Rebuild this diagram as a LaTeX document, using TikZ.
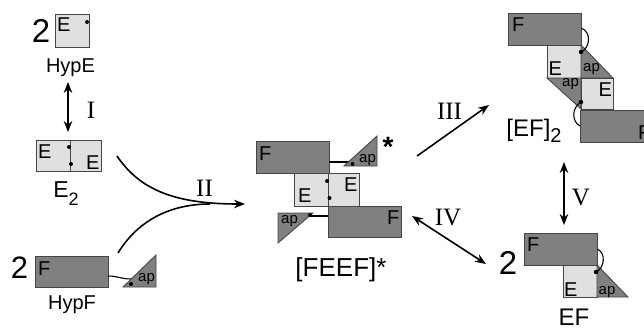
\documentclass[tikz,border=0pt]{standalone}
\usepackage{fontspec}
\setmainfont{Liberation Sans}
\newfontfamily\romfont{Liberation Serif}
\usetikzlibrary{arrows.meta}
\definecolor{fgray}{RGB}{128,128,128}
\definecolor{egray}{RGB}{224,224,224}
\definecolor{edge}{RGB}{70,70,70}
\newcommand\setfs[1]{\fontsize{#1}{#1}\selectfont}

\begin{document}
\begin{tikzpicture}[x=1pt,y=-1pt,
  fbox/.style={draw=edge,fill=fgray,line width=0.9pt},
  ebox/.style={draw=edge,fill=egray,line width=0.9pt},
  lnk/.style={line width=1.1pt},
  rxn/.style={line width=1.6pt,-{Stealth[length=11pt,width=8.5pt]}},
  rxnb/.style={line width=1.6pt,{Stealth[length=11pt,width=8.5pt]}-{Stealth[length=11pt,width=8.5pt]}},
  lbl/.style={inner sep=0pt,anchor=base west,font=\setfs{20}},
  ap/.style={inner sep=0pt,anchor=base west,font=\setfs{15}},
  splabel/.style={inner sep=0pt,anchor=base,font=\setfs{24}},
  num/.style={inner sep=0pt,anchor=base,font=\romfont\setfs{25}},
  two/.style={inner sep=0pt,anchor=base,font=\setfs{33}}]
\useasboundingbox (0,0) rectangle (644,329);
\clip (0,0) rectangle (644,329);

\draw[ebox] (55,14) rectangle (89,47);
\node[lbl] (hypeE) at (57,31) {E};
\fill (87,22) circle (2);
\node[two] (twoE) at (41,42) {2};
\node[splabel,font=\setfs{20}] (hype) at (70.5,72) {HypE};

\coordinate (Ia) at (68,82);
\coordinate (Ib) at (68,132);
\draw[rxnb] (Ia) -- (Ib);
\node[num] (I) at (91,118) {I};

\draw[ebox] (36,140) rectangle (70,171);
\draw[ebox] (70,140) rectangle (101,171);
\node[lbl] (e2a) at (38,158) {E};
\node[lbl] (e2b) at (86,169.5) {E};
\fill (69,147) circle (2);
\fill (71,164) circle (2);
\node[splabel,font=\setfs{23}] (e2) at (66,197) {E\raisebox{-8pt}{\setfs{18}2}};

\draw[fbox] (35,256) rectangle (108,287);
\node[lbl] (hypfF) at (38,275) {F};
\node[two,font=\setfs{31}] (twoF) at (19.5,278) {2};
\node[splabel,font=\setfs{20}] (hypf) at (72,309) {HypF};
\draw[lnk] (108,276) .. controls (118,276) and (121,279) .. (131,279);
\draw[fbox] (123,287) -- (156,255) -- (156,287) -- cycle;
\fill (131,284) circle (2);
\node[ap] (hypfap) at (138,281.5) {ap};

\coordinate (IIa) at (117,156);
\coordinate (IIb) at (118,253);
\coordinate (IIm) at (210,204);
\coordinate (IIc) at (245,204);
\draw[rxn] (IIa) .. controls (140,190) and (175,204) .. (IIc);
\draw[line width=1.6pt] (IIb) .. controls (140,217) and (175,204) .. (IIm);
\node[num] (II) at (204.5,196.5) {II};

\draw[fbox] (256,141) rectangle (329,173);
\draw[ebox] (294,173) rectangle (328,206);
\draw[ebox] (328,173) rectangle (359,206);
\draw[fbox] (328,206) rectangle (401,237);
\node[lbl] (feefF1) at (259,160) {F};
\node[lbl] (feefE1) at (298,202.5) {E};
\node[lbl] (feefE2) at (344,191.5) {E};
\node[lbl] (feefF2) at (387,224) {F};
\fill (327,181) circle (2);
\fill (329.5,198) circle (2);
\draw[lnk] (329,162) -- (351,162);
\draw[fbox] (344,166) -- (377,136) -- (377,166) -- cycle;
\fill (352.5,164) circle (2);
\node[ap] (feefap1) at (359,162) {ap};
\node[inner sep=0pt,anchor=base,font=\bfseries\setfs{28}] (star) at (388,156) {*};
\draw[lnk] (328,216) -- (309,216);
\draw[fbox] (278,213) -- (313,213) -- (278,243) -- cycle;
\fill (310,215) circle (2);
\node[ap] (feefap2) at (281,223.3) {ap};
\node[splabel,font=\setfs{26}] (feef) at (341,276) {[FEEF]*};

\coordinate (IIIa) at (417,156);
\coordinate (IIIb) at (489,105);
\draw[rxn] (IIIa) -- (IIIb);
\node[num] (III) at (449.5,119.3) {III};

\coordinate (IVa) at (412,216);
\coordinate (IVb) at (486,264);
\draw[rxnb] (IVa) -- (IVb);
\node[num] (IV) at (448,225) {IV};

\draw[fbox] (508,13) rectangle (581,45);
\draw[ebox] (547,45) rectangle (581,78);
\draw[fbox] (581,45) -- (613,78) -- (581,78) -- cycle;
\draw[fbox] (547,78) -- (581,78) -- (581,109) -- cycle;
\draw[ebox] (581,78) rectangle (613,109);
\draw[fbox] (580,110) rectangle (660,142);
\node[lbl] (ef2F1) at (512,31.7) {F};
\node[lbl] (ef2E1) at (548.5,75) {E};
\node[lbl] (ef2E2) at (598.5,96.7) {E};
\node[lbl] (ef2F2) at (638,139) {F};
\node[ap] (ef2ap1) at (583,71.7) {ap};
\node[ap] (ef2ap2) at (562,86.7) {ap};
\draw[lnk] (581,28) .. controls (592,32) and (590,48) .. (581,52);
\draw[lnk] (581,102) .. controls (571,108) and (572,122) .. (580,126);
\fill (581,52) circle (2.2);
\fill (581,102) circle (2.2);
\node[splabel] (ef2) at (534,136.7) {[EF]\raisebox{-6pt}{\setfs{20}2}};

\coordinate (Va) at (564,162);
\coordinate (Vb) at (564,225);
\draw[rxnb] (Va) -- (Vb);
\node[num] (V) at (581,205) {V};

\draw[fbox] (524,233) rectangle (597,265);
\draw[ebox] (563,265) rectangle (597,297);
\draw[fbox] (597,265) -- (628,297) -- (597,297) -- cycle;
\node[lbl] (efF) at (527,251.7) {F};
\node[lbl] (efE) at (564,296) {E};
\node[ap] (efap) at (598.5,294.5) {ap};
\draw[lnk] (597,249) .. controls (606,252) and (605,268) .. (596,272);
\fill (596,272) circle (2.2);
\node[two] (twoEF) at (508,274) {2};
\node[splabel] (ef) at (574,325) {EF};
\end{tikzpicture}
\end{document}
